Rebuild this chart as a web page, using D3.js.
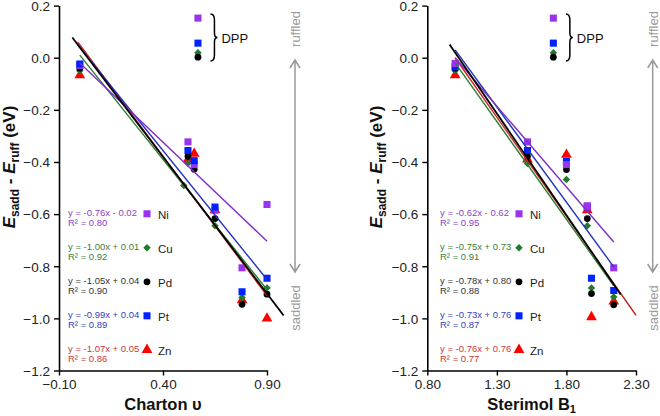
<!DOCTYPE html>
<html><head><meta charset="utf-8">
<script src="https://cdn.jsdelivr.net/npm/d3@7/dist/d3.min.js"></script>
<style>body{margin:0;background:#fff}svg{display:block;font-family:Arial,"Liberation Sans",sans-serif}</style>
</head><body><svg id="c" width="660" height="416"></svg>
<script>
const metals = ["Ni","Cu","Pd","Pt","Zn"];
const chartonX = [0.00, 0.52, 0.55, 0.65, 0.78, 0.90];
const cuChartonX = [0.00, 0.52, 0.50, 0.65, 0.78, 0.90];
const sterimolX = [1.00, 1.52, 1.80, 1.95, 2.14, 1.98];
const niSterimolX = [1.00, 1.52, 1.80, 1.95, 2.14, 1.95];
const niCharton = [-0.03, -0.323, -0.41, -0.585, -0.806, -0.563];
const cuCharton = [-0.05, -0.405, -0.49, -0.645, -0.92, -0.883];
const pdCharton = [-0.04, -0.378, -0.428, -0.617, -0.946, -0.907];
const ptCharton = [-0.024, -0.356, -0.395, -0.573, -0.898, -0.846];
const znCharton = [-0.067, -0.39, -0.368, -0.585, -0.93, -1.00];
const niSterimol = [-0.022, -0.323, -0.41, -0.572, -0.806, -0.568];
const cuSterimol = [-0.05, -0.406, -0.467, -0.645, -0.918, -0.883];
const pdSterimol = [-0.04, -0.378, -0.429, -0.617, -0.948, -0.905];
const ptSterimol = [-0.035, -0.356, -0.398, -0.572, -0.893, -0.846];
const znSterimol = [-0.067, -0.39, -0.372, -0.585, -0.935, -0.995];
const dppCharton = 0.568;
const dppSterimol = 1.706;
const dppValues = [0.152, 0.019, 0.002, 0.056, null];
const chartonSlope = [-0.76, -1.00, -1.05, -0.99, -1.07];
const chartonIntercept = [-0.02, 0.01, 0.04, 0.04, 0.05];
const chartonLineStart = [0.00, 0.00, -0.036, -0.01, -0.01];
const chartonLineEnd = [0.90, 0.90, 0.98, 0.90, 0.90];
const sterimolSlope = [-0.62, -0.75, -0.78, -0.73, -0.76];
const sterimolIntercept = [0.62, 0.73, 0.80, 0.76, 0.76];
const sterimolLineStart = [1.00, 1.00, 0.96, 1.00, 1.00];
const sterimolLineEnd = [2.14, 2.14, 2.19, 2.14, 2.30];
const chartonEq = ["y = -0.76x - 0.02","y = -1.00x + 0.01","y = -1.05x + 0.04","y = -0.99x + 0.04","y = -1.07x + 0.05"];
const chartonR2 = ["R² = 0.80","R² = 0.92","R² = 0.90","R² = 0.89","R² = 0.86"];
const sterimolEq = ["y = -0.62x - 0.62","y = -0.75x + 0.73","y = -0.78x + 0.80","y = -0.73x + 0.76","y = -0.76x + 0.76"];
const sterimolR2 = ["R² = 0.95","R² = 0.91","R² = 0.88","R² = 0.87","R² = 0.77"];
const chartonTicks = [-0.10, 0.40, 0.90];
const sterimolTicks = [0.80, 1.30, 1.80, 2.30];
const yTicks = [-1.2, -1.0, -0.8, -0.6, -0.4, -0.2, 0.0, 0.2];

const markerColor = ["#9933EE","#1F7A2A","#000000","#0022FF","#FF0000"];
const lineColor = ["#7F2FC8","#2E7D32","#000000","#2233BB","#CC2222"];
const textColor = ["#8A3FC8","#3A7D3A","#333333","#3344BB","#C83838"];
const shapes = ["square","diamond","circle","square","triangle"];

const svg = d3.select("#c");

function symbolPath(s){
  if(s==="square") return d3.symbol(d3.symbolSquare, 50)();
  if(s==="diamond") return d3.symbol(d3.symbolSquare, 28)();
  if(s==="circle") return d3.symbol(d3.symbolCircle, 36)();
  return d3.symbol(d3.symbolTriangle, 50)();
}
function drawMarker(g, s, x, y, color){
  g.append("path").attr("d", symbolPath(s))
   .attr("transform", `translate(${x},${y})` + (s==="diamond" ? " rotate(45)" : ""))
   .attr("fill", color);
}

function panel(opt){
  const x = d3.scaleLinear().domain(opt.xDomain).range(opt.xRange);
  const y = d3.scaleLinear().domain([-1.2, 0.2]).range([370.5, 5.6]);
  const g = svg.append("g");
  const ya = g.append("g").attr("transform", `translate(${opt.xRange[0]},0)`)
    .call(d3.axisLeft(y).tickValues(yTicks).tickFormat(d3.format(".1f")).tickSize(5).tickSizeOuter(0).tickPadding(4));
  const xa = g.append("g").attr("transform", `translate(0,${y(-1.2)})`)
    .call(d3.axisBottom(x).tickValues(opt.ticks).tickFormat(d3.format(".2f")).tickSize(5).tickSizeOuter(0).tickPadding(4));
  [ya, xa].forEach(a => {
    a.select(".domain").attr("stroke","#000").attr("stroke-width",1.6);
    a.selectAll(".tick line").attr("stroke","#000").attr("stroke-width",1.4);
    a.selectAll(".tick text").attr("font-size","13.5px").attr("fill","#222").attr("font-family","Arial, 'Liberation Sans', sans-serif");
  });
  ya.selectAll(".tick text").attr("dy","0.36em");
  const xt = g.append("text").attr("x", (opt.xRange[0]+opt.xRange[1])/2).attr("y", 410)
    .attr("text-anchor","middle").attr("font-weight","bold").attr("font-size","16.5px").attr("fill","#111");
  xt.append("tspan").text(opt.xTitle);
  if(opt.xSub){ xt.append("tspan").attr("dy",3).attr("font-size","11px").text(opt.xSub); }
  const yt = g.append("text").attr("transform", `translate(${opt.yTitleX},167) rotate(-90)`)
    .attr("text-anchor","middle").attr("font-weight","bold").attr("font-size","17px").attr("fill","#111");
  yt.append("tspan").attr("font-style","italic").text("E");
  yt.append("tspan").attr("dy",4).attr("font-size","12px").text("sadd");
  yt.append("tspan").attr("dy",-4).text(" - ");
  yt.append("tspan").attr("font-style","italic").text("E");
  yt.append("tspan").attr("dy",4).attr("font-size","12px").text("ruff");
  yt.append("tspan").attr("dy",-4).text(" (eV)");

  opt.order.forEach(i => {
    opt.values[i].forEach((v,j) => {
      drawMarker(g, shapes[i], x(opt.xs[i][j]), y(v), markerColor[i]);
    });
  });
  [0,3,1,2].forEach(i => {
    if(dppValues[i]!==null) drawMarker(g, shapes[i], x(opt.dppX), y(dppValues[i]), markerColor[i]);
  });
  [1,4,3,0,2].forEach(i => {
    const x0 = opt.lineStart[i], x1 = opt.lineEnd[i];
    g.append("line")
      .attr("x1", x(x0)).attr("y1", y(opt.slope[i]*x0 + opt.intercept[i]))
      .attr("x2", x(x1)).attr("y2", y(opt.slope[i]*x1 + opt.intercept[i]))
      .attr("stroke", lineColor[i]).attr("stroke-width", i===2 ? 1.8 : 1.4);
  });
  const bx = x(opt.dppX) + 12.5;
  g.append("path")
    .attr("d", `M${bx},14 Q${bx+4},14 ${bx+4},20 L${bx+4},33 Q${bx+4},37.5 ${bx+7},37.5 Q${bx+4},37.5 ${bx+4},42 L${bx+4},55 Q${bx+4},61 ${bx},61`)
    .attr("fill","none").attr("stroke","#000").attr("stroke-width",1.5);
  g.append("text").attr("x", bx+11).attr("y", 42.5).attr("font-size","13px").attr("fill","#111").text("DPP");
  metals.forEach((m,i) => {
    const cy = 212.3 + 34*i;
    g.append("text").attr("x", opt.legX).attr("y", cy+3.3).attr("font-size","9.5px").attr("fill", textColor[i]).text(opt.eq[i]);
    g.append("text").attr("x", opt.legX).attr("y", cy+13.5).attr("font-size","9.5px").attr("fill", textColor[i]).text(opt.r2[i]);
    drawMarker(g, shapes[i], opt.legX + 79, cy+1.5, markerColor[i]);
    g.append("text").attr("x", opt.legX + 90).attr("y", cy+6.5).attr("font-size","11.5px").attr("fill","#222").text(m);
  });
  const ax = opt.arrowX;
  g.append("path").attr("d", `M${ax},61 L${ax},271 M${ax-5},68 L${ax},60 L${ax+5},68 M${ax-5},264 L${ax},272 L${ax+5},264`)
    .attr("fill","none").attr("stroke","#999").attr("stroke-width",1.5);
  g.append("text").attr("transform", `translate(${ax+5},29) rotate(-90)`).attr("text-anchor","middle")
    .attr("font-size","13px").attr("fill","#999").text("ruffled");
  g.append("text").attr("transform", `translate(${ax+5},308) rotate(-90)`).attr("text-anchor","middle")
    .attr("font-size","13px").attr("fill","#999").text("saddled");
}

panel({
  xDomain:[-0.1, 0.9], xRange:[59, 267], ticks: chartonTicks, xTitle:"Charton υ", xSub:null, yTitleX:15,
  xs:[chartonX, cuChartonX, chartonX, chartonX, chartonX],
  values:[niCharton, cuCharton, pdCharton, ptCharton, znCharton], order:[4,1,2,0,3],
  dppX: dppCharton, slope: chartonSlope, intercept: chartonIntercept,
  lineStart: chartonLineStart, lineEnd: chartonLineEnd,
  eq: chartonEq, r2: chartonR2, legX: 68, arrowX: 295
});
panel({
  xDomain:[0.8, 2.3], xRange:[427.3, 636], ticks: sterimolTicks, xTitle:"Sterimol B", xSub:"1", yTitleX:382,
  xs:[niSterimolX, sterimolX, sterimolX, sterimolX, sterimolX],
  values:[niSterimol, cuSterimol, pdSterimol, ptSterimol, znSterimol], order:[4,1,2,3,0],
  dppX: dppSterimol, slope: sterimolSlope, intercept: sterimolIntercept,
  lineStart: sterimolLineStart, lineEnd: sterimolLineEnd,
  eq: sterimolEq, r2: sterimolR2, legX: 440, arrowX: 652.7
});
</script></body></html>
